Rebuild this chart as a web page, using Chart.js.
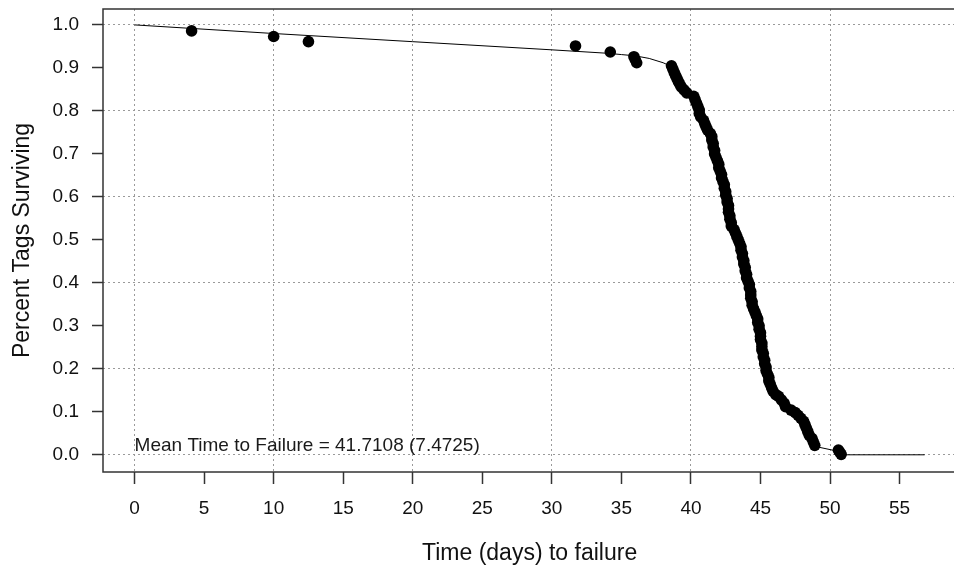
<!DOCTYPE html>
<html>
<head>
<meta charset="utf-8">
<script src="https://cdn.jsdelivr.net/npm/chart.js@4/dist/chart.umd.min.js"></script>
<style>
  html, body { margin: 0; padding: 0; background: #fff; overflow: hidden; }
</style>
</head>
<body>
<canvas id="survChart" width="962" height="571"></canvas>
<script>
// observed failures (days) and the survival fraction at each one
const failTimes = [
  4.1, 10.0, 12.5, 31.7, 34.2, 35.9, 36.0, 36.1,
  38.6, 38.7, 38.8, 38.9, 39.0, 39.1, 39.2, 39.3, 39.5, 39.7,
  40.2, 40.3, 40.4, 40.5, 40.6, 40.6, 40.7, 40.9, 41.0, 41.1,
  41.2, 41.4, 41.5, 41.5, 41.6, 41.6, 41.7, 41.7, 41.8, 41.9,
  42.0, 42.0, 42.1, 42.2, 42.2, 42.3, 42.4, 42.4, 42.5, 42.5,
  42.6, 42.6, 42.7, 42.7, 42.7, 42.8, 42.8, 42.9, 42.9, 43.1,
  43.2, 43.3, 43.4, 43.5, 43.6, 43.6, 43.7, 43.7, 43.8, 43.8,
  43.9, 43.9, 44.0, 44.0, 44.1, 44.2, 44.2, 44.3, 44.3, 44.3,
  44.4, 44.4, 44.5, 44.6, 44.7, 44.8, 44.8, 44.9, 44.9, 45.0,
  45.0, 45.0, 45.1, 45.1, 45.1, 45.2, 45.2, 45.3, 45.3, 45.4,
  45.4, 45.5, 45.6, 45.6, 45.7, 45.8, 45.9, 46.1, 46.3, 46.5,
  46.7, 46.8, 47.2, 47.5, 47.7, 47.9, 48.1, 48.2, 48.3, 48.4,
  48.5, 48.7, 48.8, 48.9, 50.6, 50.7, 50.8
];
const survival = [
  0.986, 0.973, 0.961, 0.951, 0.937, 0.926, 0.919, 0.912,
  0.905, 0.897, 0.889, 0.882, 0.875, 0.868, 0.862, 0.856, 0.849, 0.842,
  0.834, 0.826, 0.818, 0.810, 0.802, 0.794, 0.786, 0.778, 0.770, 0.762,
  0.755, 0.747, 0.740, 0.732, 0.724, 0.716, 0.708, 0.700, 0.692, 0.684,
  0.676, 0.668, 0.660, 0.652, 0.644, 0.636, 0.628, 0.620, 0.612, 0.604,
  0.596, 0.588, 0.580, 0.572, 0.564, 0.556, 0.548, 0.540, 0.532, 0.524,
  0.516, 0.508, 0.500, 0.492, 0.484, 0.476, 0.468, 0.460, 0.452, 0.444,
  0.436, 0.428, 0.420, 0.412, 0.404, 0.396, 0.388, 0.380, 0.372, 0.364,
  0.356, 0.348, 0.340, 0.332, 0.324, 0.316, 0.308, 0.300, 0.292, 0.284,
  0.276, 0.268, 0.260, 0.252, 0.244, 0.236, 0.228, 0.220, 0.212, 0.204,
  0.196, 0.188, 0.180, 0.172, 0.164, 0.156, 0.148, 0.140, 0.136, 0.128,
  0.120, 0.112, 0.104, 0.098, 0.092, 0.085, 0.078, 0.070, 0.062, 0.054,
  0.046, 0.038, 0.030, 0.022, 0.011, 0.006, 0.001
];

// fitted survival curve
const fitTimes = [0, 10, 20, 30, 34, 35, 36, 37, 38, 38.6, 39, 39.5, 40, 40.5, 41, 41.5,
  42, 42.5, 43, 43.5, 44, 44.5, 45, 45.5, 46, 46.5, 47, 47.5, 48, 48.5, 49, 50.6, 51.1, 56.8];
const fitSurvival = [1.0, 0.98, 0.961, 0.942, 0.934, 0.931, 0.928, 0.922, 0.912, 0.903, 0.882, 0.857,
  0.835, 0.805, 0.77, 0.72, 0.665, 0.6, 0.525, 0.46, 0.39, 0.32, 0.255, 0.19, 0.152, 0.127,
  0.107, 0.092, 0.073, 0.048, 0.019, 0.008, 0.0, 0.0];

const xTicks = [0, 5, 10, 15, 20, 25, 30, 35, 40, 45, 50, 55];
const yTicks = [0, 0.1, 0.2, 0.3, 0.4, 0.5, 0.6, 0.7, 0.8, 0.9, 1.0];
const note = 'Mean Time to Failure = 41.7108 (7.4725)';

const font = 'Arial, "Liberation Sans", sans-serif';

const boxAndNote = {
  id: 'boxAndNote',
  afterDraw(chart) {
    const { ctx, chartArea: a, scales } = chart;
    ctx.save();
    ctx.strokeStyle = '#333';
    ctx.lineWidth = 1.5;
    ctx.strokeRect(a.left, a.top, a.right - a.left, a.bottom - a.top);
    ctx.fillStyle = '#1a1a1a';
    ctx.font = '19px ' + font;
    ctx.textAlign = 'left';
    ctx.textBaseline = 'middle';
    ctx.fillText(note, scales.x.getPixelForValue(0), scales.y.getPixelForValue(0.02));
    ctx.restore();
  }
};

new Chart(document.getElementById('survChart'), {
  type: 'scatter',
  data: {
    datasets: [
      {
        data: fitTimes.map((t, i) => ({ x: t, y: fitSurvival[i] })),
        showLine: true,
        borderColor: '#000',
        borderWidth: 1,
        pointRadius: 0,
        order: 0
      },
      {
        data: failTimes.map((t, i) => ({ x: t, y: survival[i] })),
        backgroundColor: '#000',
        borderColor: '#000',
        pointRadius: 5.8,
        borderWidth: 0,
        order: 1
      }
    ]
  },
  options: {
    responsive: false,
    animation: false,
    layout: { padding: { top: 9, right: 2, left: 0, bottom: 0 } },
    plugins: { legend: { display: false }, tooltip: { enabled: false } },
    scales: {
      x: {
        type: 'linear',
        min: -2.27,
        max: 59.07,
        afterBuildTicks: s => { s.ticks = xTicks.map(v => ({ value: v })); },
        afterFit: s => { s.height = 99; s.paddingLeft = 0; s.paddingRight = 0; },
        grid: {
          color: c => (c.tick && c.tick.value % 10 === 0) ? '#9a9a9a' : 'rgba(0,0,0,0)',
          lineWidth: 1,
          tickColor: '#333',
          tickWidth: 1.5,
          tickLength: 12
        },
        border: { display: false, dash: [2, 3] },
        ticks: { color: '#111', font: { size: 19, family: font }, padding: 13, maxRotation: 0 },
        title: {
          display: true,
          text: 'Time (days) to failure',
          color: '#111',
          font: { size: 23, family: font },
          padding: { top: 0, bottom: 4 }
        }
      },
      y: {
        type: 'linear',
        min: -0.04,
        max: 1.037,
        afterBuildTicks: s => { s.ticks = yTicks.map(v => ({ value: v })); },
        afterFit: s => { s.width = 103; s.paddingTop = 0; s.paddingBottom = 0; },
        grid: {
          color: c => (c.tick && Math.round(c.tick.value * 10) % 2 === 0) ? '#9a9a9a' : 'rgba(0,0,0,0)',
          lineWidth: 1,
          tickColor: '#333',
          tickWidth: 1.5,
          tickLength: 11
        },
        border: { display: false, dash: [2, 3] },
        ticks: {
          color: '#111',
          font: { size: 19, family: font },
          padding: 13,
          callback: v => v.toFixed(1)
        },
        title: {
          display: true,
          text: 'Percent Tags Surviving',
          color: '#111',
          font: { size: 23, family: font },
          padding: { top: 9, bottom: 0 }
        }
      }
    }
  },
  plugins: [boxAndNote]
});
</script>
</body>
</html>
